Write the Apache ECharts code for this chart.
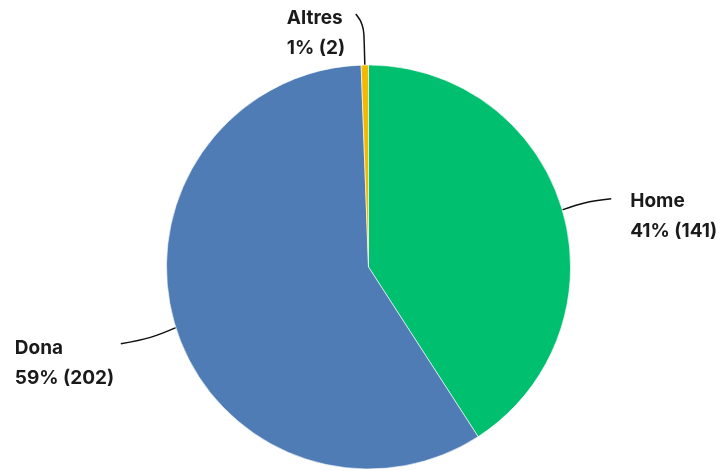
<!DOCTYPE html>
<html>
<head>
<meta charset="utf-8">
<script src="https://cdn.jsdelivr.net/npm/echarts@6/dist/echarts.min.js"></script>
<style>html,body{margin:0;padding:0;background:#fff;}#c{width:726px;height:471px;}</style>
</head>
<body>
<div id="c"></div>
<script>
var categories = ['Home', 'Dona', 'Altres'];
var values = [141, 202, 2];
var percents = ['41%', '59%', '1%'];
var colors = ['#00BF6F', '#507CB6', '#F5B800'];

var chart = echarts.init(document.getElementById('c'), null, {renderer: 'canvas'});
var data = categories.map(function (c, i) {
  return {name: c, value: values[i], itemStyle: {color: colors[i]}};
});

// label offsets relative to the slice edge point (styling only)
var layouts = {
  0: {line: [[22, -8], [49, -11]], text: [68, 6]},
  1: {line: [[-25, 11], [-55, 16]], text: [-161, 36]},
  2: {line: [[-1, -40], [-9, -51]], text: [-78, -32]}
};

chart.setOption({
  animation: false,
  series: [{
    type: 'pie',
    center: [368.5, 267],
    radius: [0, 202],
    startAngle: 90,
    clockwise: true,
    data: data,
    itemStyle: {borderColor: '#ffffff', borderWidth: 0.6},
    label: {
      show: true,
      formatter: function (p) {
        return '{a|' + p.name + '}\n{a|' + percents[p.dataIndex] + ' (' + p.value + ')}';
      },
      rich: {
        a: {fontFamily: 'Inter', fontWeight: 'bold', fontSize: 19, lineHeight: 30, color: '#1a1a1a', align: 'left'}
      }
    },
    labelLine: {show: true, smooth: 0.4, lineStyle: {color: '#111', width: 1.5}},
    labelLayout: function (params) {
      var pts = params.labelLinePoints;
      if (!pts) return {};
      var e = pts[0];
      var L = layouts[params.dataIndex];
      return {
        x: e[0] + L.text[0],
        y: e[1] + L.text[1],
        align: 'left',
        verticalAlign: 'middle',
        labelLinePoints: [[e[0], e[1]], [e[0] + L.line[0][0], e[1] + L.line[0][1]], [e[0] + L.line[1][0], e[1] + L.line[1][1]]]
      };
    }
  }]
});
</script>
</body>
</html>
